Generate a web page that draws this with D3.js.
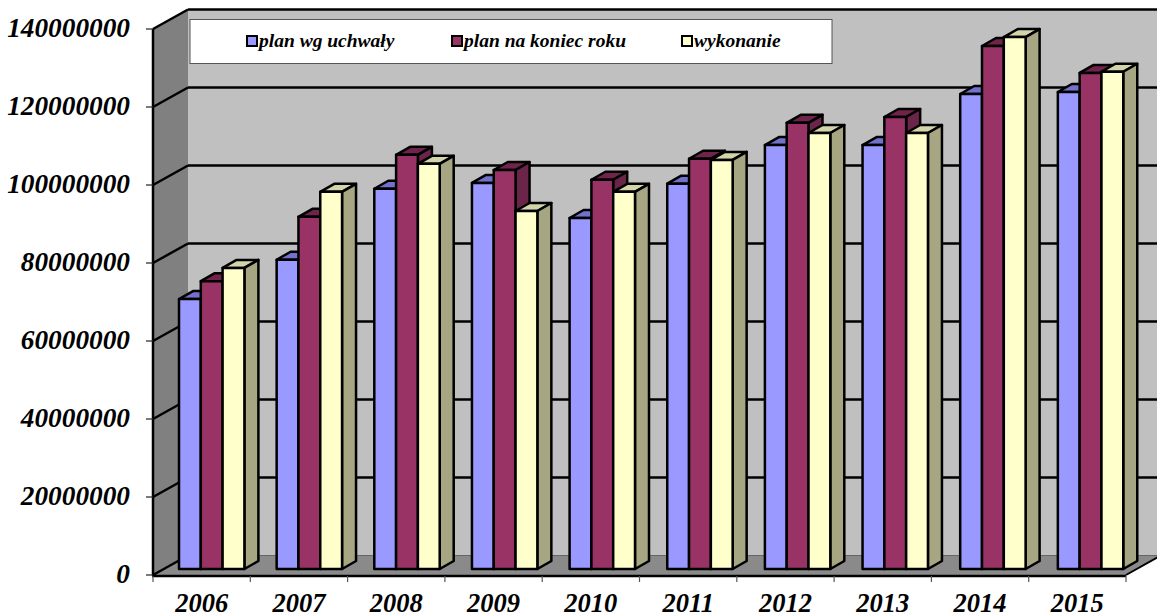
<!DOCTYPE html>
<html><head><meta charset="utf-8">
<script src="https://cdn.jsdelivr.net/npm/d3@7"></script>
<style>html,body{margin:0;padding:0;background:#fff}svg{display:block}
text{font-family:"Liberation Serif",serif;font-weight:bold;font-style:italic;fill:#000}</style>
</head><body><svg id="c" width="1157" height="616"></svg>
<script>
const years=["2006","2007","2008","2009","2010","2011","2012","2013","2014","2015"];
const seriesNames=["plan wg uchwały","plan na koniec roku","wykonanie"];
const planUchwaly=[69200000,79300000,97500000,99000000,90000000,98800000,108700000,108700000,121800000,122300000];
const planKoniec=[73800000,90300000,106200000,102300000,99800000,105200000,114400000,115900000,134100000,127200000];
const wykonanie=[77200000,96700000,103900000,91800000,96700000,104900000,111800000,111800000,136400000,127500000];
const yTicks=[0,20000000,40000000,60000000,80000000,100000000,120000000,140000000];
const fronts=["#9999ff","#993366","#ffffcc"], tops=["#7272cc","#70244c","#d4d4aa"], sides=["#6e6eb8","#6b2549","#a6a683"];
const allSeries=[planUchwaly,planKoniec,wykonanie];

const svg=d3.select("#c");
const y=d3.scaleLinear().domain([0,140000000]).range([575,29]);
const x=d3.scaleBand().domain(years).range([153,1126]);
const xBars=d3.scaleBand().domain(years).range([179,1155.5]);
const wallDx=35, wallDy=-19.5, barDy=-6, depthDx=14, depthDy=-8;
const x0=x.range()[0], x1=x.range()[1], yb=y(0), yt=y(140000000);
const poly=(pts,f,s,w)=>svg.append("polygon").attr("points",pts.map(p=>p.join(",")).join(" ")).attr("fill",f).attr("stroke",s||"none").attr("stroke-width",w||0).attr("stroke-linejoin","round");
const line=(a,b,c,d,w,col)=>svg.append("line").attr("x1",a).attr("y1",b).attr("x2",c).attr("y2",d).attr("stroke",col||"#000").attr("stroke-width",w);

// walls and floor
poly([[x0+wallDx,yt+wallDy],[x1+wallDx,yt+wallDy],[x1+wallDx,yb+wallDy],[x0+wallDx,yb+wallDy]],"#c0c0c0");
poly([[x0,yt],[x0+wallDx,yt+wallDy],[x0+wallDx,yb+wallDy],[x0,yb]],"#808080");
poly([[x0,yb],[x0+wallDx,yb+wallDy],[x1+wallDx,yb+wallDy],[x1,yb]],"#8a8a8a");

// gridlines
yTicks.forEach(v=>{
  const p=y(v);
  line(x0,p,x0+wallDx,p+wallDy,2.5);
  if(v>0) line(x0+wallDx,p+wallDy,x1+wallDx,p+wallDy,2.5);
});
line(x0,yt,x0,yb,2.5);
line(x0+wallDx,yb+wallDy,x1+wallDx,yb+wallDy,1,"#666");
line(x0-1,yb+1,x1,yb+1,2.5);
line(x1,yb,x1+wallDx,yb+wallDy,2);

// axes ticks and labels
yTicks.forEach(v=>{
  const p=y(v);
  line(x0-7,p,x0,p,1.2,"#222");
  svg.append("text").attr("x",130).attr("y",p+8).attr("text-anchor","end").attr("font-size",27.3).text(v);
});
d3.range(years.length+1).forEach(i=>{
  const px=x0+i*x.step();
  line(px,yb+1,px,yb+7,1.2,"#555");
});
years.forEach(d=>{
  svg.append("text").attr("x",x(d)+x.bandwidth()/2).attr("y",612).attr("text-anchor","middle").attr("font-size",26.5).text(d);
});

// bars
const yBar=v=>y(v)+barDy;
const bw=21.8;
years.forEach((yr,i)=>{
  allSeries.forEach((vals,s)=>{
    const l=xBars(yr)+s*bw, r=l+bw, t=yBar(vals[i]), b=yBar(0);
    poly([[l,t],[l+depthDx,t+depthDy],[r+depthDx,t+depthDy],[r,t]],tops[s],"#000",2.5);
    poly([[r,t],[r+depthDx,t+depthDy],[r+depthDx,b+depthDy],[r,b]],sides[s],"#000",2.5);
    poly([[l,t],[r,t],[r,b],[l,b]],fronts[s],"#000",2.5);
  });
});

// legend
svg.append("rect").attr("x",190).attr("y",19.5).attr("width",642).attr("height",44).attr("fill","#fff").attr("stroke","#555").attr("stroke-width",1);
const legX=[247,452,682];
seriesNames.forEach((n,i)=>{
  svg.append("rect").attr("x",legX[i]).attr("y",36).attr("width",10).attr("height",10).attr("fill",fronts[i]).attr("stroke","#000").attr("stroke-width",2);
  svg.append("text").attr("x",legX[i]+12).attr("y",47).attr("font-size",19.5).text(n);
});
</script></body></html>
